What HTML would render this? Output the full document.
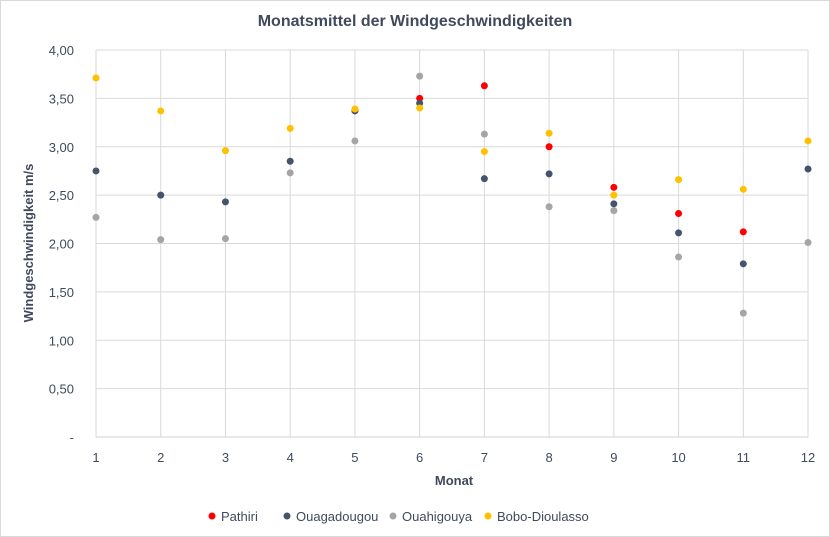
<!DOCTYPE html>
<html><head><meta charset="utf-8"><style>
body{margin:0;background:#fff}
svg{display:block;font-family:"Liberation Sans",Calibri,sans-serif}
</style></head><body>
<svg id="s" width="830" height="537" xmlns="http://www.w3.org/2000/svg">
<rect x="0.5" y="0.5" width="829" height="536" fill="#fff" stroke="#d9d9d9"/>
<text x="415" y="26" text-anchor="middle" font-size="16" font-weight="bold" fill="#404a5c">Monatsmittel der Windgeschwindigkeiten</text>
<g id="grid"></g>
<g id="pts"></g>
<text x="454" y="485" text-anchor="middle" font-size="13" font-weight="bold" fill="#404a5c">Monat</text>
<text transform="translate(33,243) rotate(-90)" text-anchor="middle" font-size="13" font-weight="bold" fill="#404a5c">Windgeschwindigkeit m/s</text>
<g font-size="13" fill="#404a5c">
<circle cx="212" cy="516" r="3.5" fill="#ff0000"/><text x="221" y="521">Pathiri</text>
<circle cx="287" cy="516" r="3.5" fill="#44546a"/><text x="296" y="521">Ouagadougou</text>
<circle cx="393" cy="516" r="3.5" fill="#a5a5a5"/><text x="402" y="521">Ouahigouya</text>
<circle cx="488" cy="516" r="3.5" fill="#ffc000"/><text x="497" y="521">Bobo-Dioulasso</text>
</g>
</svg>
<script>
var ns="http://www.w3.org/2000/svg",g=document.getElementById('grid'),p=document.getElementById('pts');
function X(m){return 96+64.73*(m-1)}function Y(v){return 437-96.75*v}
function el(par,t,a,txt){var e=document.createElementNS(ns,t);for(var k in a)e.setAttribute(k,a[k]);if(txt)e.textContent=txt;par.appendChild(e);}
for(var i=1;i<=8;i++){var v=i*0.5;el(g,'line',{x1:96,x2:808,y1:Y(v),y2:Y(v),stroke:'#d9d9d9'});}
for(var i=0;i<=8;i++){var v=i*0.5;el(g,'text',{x:74,y:Y(v)+5,'text-anchor':'end','font-size':13,fill:'#404a5c'},i==0?'-':v.toFixed(2).replace('.',','));}
for(var m=1;m<=12;m++){el(g,'line',{x1:X(m),x2:X(m),y1:50,y2:437,stroke:'#d9d9d9'});el(g,'text',{x:X(m),y:462,'text-anchor':'middle','font-size':13,fill:'#404a5c'},m);}
el(g,'line',{x1:96,x2:808,y1:437,y2:437,stroke:'#d0d0d0'});
var S=[['#ff0000',[null,null,null,null,3.38,3.50,3.63,3.00,2.58,2.31,2.12,null]],
['#44546a',[2.75,2.50,2.43,2.85,3.37,3.45,2.67,2.72,2.41,2.11,1.79,2.77]],
['#a5a5a5',[2.27,2.04,2.05,2.73,3.06,3.73,3.13,2.38,2.34,1.86,1.28,2.01]],
['#ffc000',[3.71,3.37,2.96,3.19,3.39,3.40,2.95,3.14,2.50,2.66,2.56,3.06]]];
S.forEach(function(s){s[1].forEach(function(v,i){if(v!=null)el(p,'circle',{cx:X(i+1),cy:Y(v),r:3.5,fill:s[0]});});});
</script>
</body></html>
